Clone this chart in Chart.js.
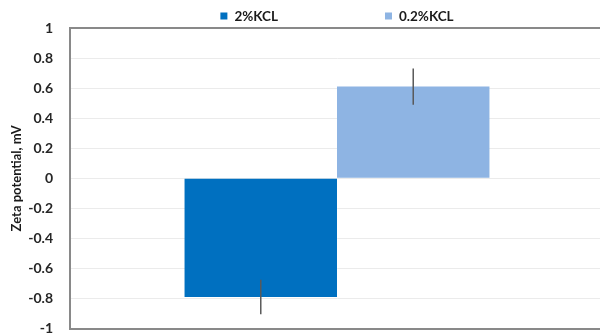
<!DOCTYPE html>
<html>
<head>
<meta charset="utf-8">
<script src="https://cdn.jsdelivr.net/npm/chart.js@4/dist/chart.umd.min.js"></script>
<style>
  html, body { margin: 0; padding: 0; background: #fff; overflow: hidden; }
  canvas { display: block; }
</style>
</head>
<body>
<canvas id="zeta-chart" width="604" height="354"></canvas>
<script>
// zeta potential, one group, two brines
const categories = ['Zeta potential'];
const seriesNames = ['2%KCL', '0.2%KCL'];
const seriesColors = ['#0070C0', '#8EB4E3'];
const meanValues = [-0.79, 0.61];
const errValues = [0.115, 0.12];
const yTickLabels = ['-1', '-0.8', '-0.6', '-0.4', '-0.2', '0', '0.2', '0.4', '0.6', '0.8', '1'];

const FONT = 'Lato, "Open Sans", sans-serif';

// vertical error lines, no caps
const errorBars = {
    id: 'errorBars',
    afterDatasetsDraw(chart) {
        const ctx = chart.ctx;
        const y = chart.scales.y;
        ctx.save();
        ctx.strokeStyle = '#595959';
        ctx.lineWidth = 1.5;
        chart.data.datasets.forEach((ds, i) => {
            const bar = chart.getDatasetMeta(i).data[0];
            const v = ds.data[0];
            const e = errValues[i];
            ctx.beginPath();
            ctx.moveTo(bar.x, y.getPixelForValue(v + e));
            ctx.lineTo(bar.x, y.getPixelForValue(v - e));
            ctx.stroke();
        });
        ctx.restore();
    }
};

// legend row above the plot, items spread apart
const topLegend = {
    id: 'topLegend',
    afterDraw(chart) {
        const ctx = chart.ctx;
        const area = chart.chartArea;
        const box = 7, gapText = 7, gapItems = 107;
        ctx.save();
        ctx.font = 'bold 13.5px ' + FONT;
        ctx.textBaseline = 'middle';
        const widths = chart.data.datasets.map(ds => box + gapText + ctx.measureText(ds.label).width);
        const total = widths.reduce((a, b) => a + b, 0) + gapItems * (widths.length - 1);
        let x = (area.left + area.right) / 2 - total / 2;
        const cy = 16;
        chart.data.datasets.forEach((ds, i) => {
            ctx.fillStyle = ds.backgroundColor;
            ctx.fillRect(x, cy - box / 2, box, box);
            ctx.fillStyle = '#1a1a1a';
            ctx.fillText(ds.label, x + box + gapText, cy + 1);
            x += widths[i] + gapItems;
        });
        ctx.restore();
    }
};

const data = {
    labels: categories,
    datasets: seriesNames.map((name, i) => ({
        label: name,
        data: [meanValues[i]],
        backgroundColor: seriesColors[i],
        borderWidth: 0,
        barPercentage: 1,
        categoryPercentage: 0.571
    }))
};

const config = {
    type: 'bar',
    data: data,
    options: {
        responsive: false,
        animation: false,
        layout: { padding: { top: 28, right: 0, bottom: 0, left: 0 } },
        plugins: {
            legend: { display: false },
            tooltip: { enabled: false }
        },
        scales: {
            x: {
                ticks: { display: false },
                grid: { display: false, drawTicks: false },
                border: { display: true, color: '#898989', width: 2 }
            },
            y: {
                min: -1,
                max: 1,
                ticks: {
                    stepSize: 0.2,
                    padding: 17,
                    color: '#262626',
                    font: { family: FONT, size: 14, weight: 'bold' },
                    callback: (value, index) => yTickLabels[index]
                },
                grid: {
                    drawTicks: false,
                    color: c => (c.tick && c.tick.value === 1) ? '#898989' : '#ebebeb',
                    lineWidth: c => (c.tick && c.tick.value === 1) ? 2 : 1
                },
                border: { display: true, color: '#898989', width: 2 },
                title: {
                    display: true,
                    text: 'Zeta potential, mV',
                    color: '#1a1a1a',
                    font: { family: FONT, size: 13, weight: 'bold' },
                    padding: { top: 9, bottom: 0 }
                },
                afterFit: axis => { axis.width = 70; }
            }
        }
    },
    plugins: [errorBars, topLegend]
};

const zetaChart = new Chart(document.getElementById('zeta-chart'), config);
</script>
</body>
</html>
